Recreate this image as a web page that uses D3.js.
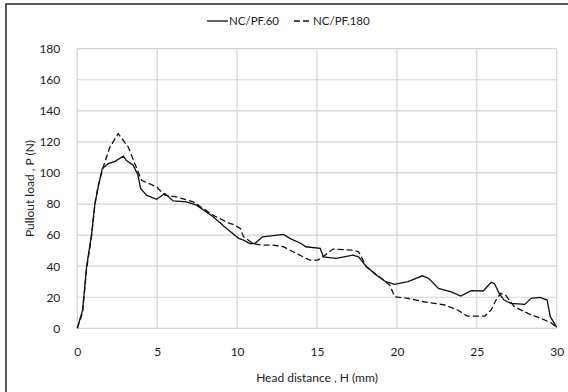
<!DOCTYPE html>
<html>
<head>
<meta charset="utf-8">
<script src="https://cdn.jsdelivr.net/npm/d3@7"></script>
<style>
  body { margin: 0; background: #fff; }
  svg { display: block; font-family: Lato, "Liberation Sans", sans-serif; }
</style>
</head>
<body>
<div id="chart"></div>
<script>
// series: head distance H (mm) and pullout load P (N)
const pf60H = [0, 0.33, 0.58, 0.9, 1.1, 1.31, 1.56, 1.94, 2.36, 2.88, 3.08, 3.5, 3.8, 3.96, 4.33, 4.96, 5.48, 6.0, 6.83, 7.46, 8.5, 9.34, 10.1, 10.4, 10.8, 11.1, 11.6, 12.9, 13.3, 14.0, 14.3, 15.2, 15.4, 16.2, 17.25, 17.6, 18.1, 18.7, 19.3, 19.85, 20.7, 21.6, 22.0, 22.6, 23.4, 24.0, 24.65, 25.4, 25.9, 26.1, 26.4, 26.7, 27.15, 28.0, 28.4, 28.95, 29.4, 29.6, 30];
const pf60P = [0, 11.7, 39.6, 61, 80, 91, 102.8, 106, 107.5, 110.8, 108, 105, 98.5, 90, 85.7, 83, 86.8, 82, 81.4, 79.3, 71.8, 64.3, 57.9, 56.8, 54.6, 54.6, 58.9, 60.4, 57.9, 54.6, 52.5, 51.4, 46, 45, 47.1, 46, 39.6, 34.3, 30, 28.3, 30, 33.8, 32.1, 25.7, 23.5, 20.8, 24.2, 24, 29.6, 28.9, 22.5, 18.2, 16, 15.4, 19.3, 19.9, 18.2, 7.5, 0.6];

const pf180H = [0, 0.33, 0.58, 0.9, 1.1, 1.31, 1.63, 2.04, 2.56, 3.19, 3.6, 4.02, 4.96, 5.48, 6.2, 7.25, 8.5, 9.54, 9.75, 10.2, 10.4, 11.0, 11.6, 12.25, 12.9, 13.7, 14.55, 15.06, 15.5, 16.0, 17.25, 17.6, 18.1, 18.9, 19.55, 19.86, 20.7, 21.7, 23.0, 23.8, 24.4, 25.5, 25.9, 26.2, 26.5, 26.8, 27.35, 28.2, 29.0, 29.65, 30];
const pf180P = [0, 10, 38, 60, 80, 92, 104, 116.7, 125.3, 116.7, 106, 95.3, 91, 85.7, 84.6, 81.4, 72.8, 67.5, 66.9, 64.3, 59, 54.6, 53.5, 53.5, 52.5, 48.2, 43.9, 43.9, 47.1, 51, 50.3, 49.3, 39.6, 33.2, 27.8, 20.3, 19.3, 17.1, 15, 11.8, 7.9, 7.9, 11.8, 18.2, 22.5, 21.4, 13.9, 9.6, 6.4, 3.6, 0.6];

const seriesNames = ['NC/PF.60', 'NC/PF.180'];
const xTicks = [0, 5, 10, 15, 20, 25, 30];
const yTicks = [0, 20, 40, 60, 80, 100, 120, 140, 160, 180];

const W = 568, H = 392;
const margin = { top: 48.7, right: 11.3, bottom: 63.7, left: 77.3 };
const w = W - margin.left - margin.right;
const h = H - margin.top - margin.bottom;

const svg = d3.select('#chart').append('svg')
  .attr('width', W)
  .attr('height', H);

// outer frame (only left and top edges show in the picture)
svg.append('rect')
  .attr('x', 6).attr('y', 4)
  .attr('width', W + 10).attr('height', H + 10)
  .attr('fill', 'none')
  .attr('stroke', '#222')
  .attr('stroke-width', 1.5);

const g = svg.append('g')
  .attr('transform', 'translate(' + margin.left + ',' + margin.top + ')');

const x = d3.scaleLinear().domain([0, 30]).range([0, w]);
const y = d3.scaleLinear().domain([0, 180]).range([h, 0]);

// grid
g.append('g')
  .selectAll('line.hg')
  .data(yTicks)
  .enter().append('line')
  .attr('x1', 0).attr('x2', w)
  .attr('y1', d => y(d)).attr('y2', d => y(d))
  .attr('stroke', '#d4d4d4')
  .attr('stroke-width', 1.2);

g.append('g')
  .selectAll('line.vg')
  .data(xTicks)
  .enter().append('line')
  .attr('y1', 0).attr('y2', h)
  .attr('x1', d => x(d)).attr('x2', d => x(d))
  .attr('stroke', '#d4d4d4')
  .attr('stroke-width', 1.2);

// axes labels via d3 axes, no domain / ticks drawn
const xAxis = g.append('g')
  .attr('transform', 'translate(0,' + h + ')')
  .call(d3.axisBottom(x).tickValues(xTicks).tickSize(0).tickPadding(19));
xAxis.select('.domain').remove();
xAxis.selectAll('text').attr('font-size', 12).attr('fill', '#222').attr('font-family', 'Lato, sans-serif');

const yAxis = g.append('g')
  .call(d3.axisLeft(y).tickValues(yTicks).tickSize(0).tickPadding(17));
yAxis.select('.domain').remove();
yAxis.selectAll('text').attr('font-size', 12).attr('fill', '#222').attr('font-family', 'Lato, sans-serif');

// lines
const line = d3.line()
  .x(d => x(d[0]))
  .y(d => y(d[1]));

const d60 = pf60H.map((v, i) => [v, pf60P[i]]);
const d180 = pf180H.map((v, i) => [v, pf180P[i]]);

g.append('path')
  .datum(d180)
  .attr('fill', 'none')
  .attr('stroke', '#111')
  .attr('stroke-width', 1.3)
  .attr('stroke-dasharray', '6,3')
  .attr('d', line);

g.append('path')
  .datum(d60)
  .attr('fill', 'none')
  .attr('stroke', '#111')
  .attr('stroke-width', 1.3)
  .attr('d', line);

// axis titles
svg.append('text')
  .attr('x', margin.left + w / 2)
  .attr('y', 382)
  .attr('text-anchor', 'middle')
  .attr('font-size', 12)
  .attr('fill', '#222')
  .text('Head distance , H (mm)');

svg.append('text')
  .attr('transform', 'translate(34,' + (margin.top + h / 2) + ') rotate(-90)')
  .attr('text-anchor', 'middle')
  .attr('font-size', 12)
  .attr('fill', '#222')
  .text('Pullout load , P (N)');

// legend
const legend = svg.append('g');
const items = [
  { name: seriesNames[0], x: 207, dash: null, len: 21 },
  { name: seriesNames[1], x: 294, dash: '6,3', len: 18 }
];
items.forEach(it => {
  legend.append('line')
    .attr('x1', it.x).attr('x2', it.x + it.len)
    .attr('y1', 21).attr('y2', 21)
    .attr('stroke', '#111')
    .attr('stroke-width', 1.3)
    .attr('stroke-dasharray', it.dash);
  legend.append('text')
    .attr('x', it.x + it.len + 1)
    .attr('y', 25)
    .attr('font-size', 11.5)
    .attr('fill', '#222')
    .text(it.name);
});
</script>
</body>
</html>
